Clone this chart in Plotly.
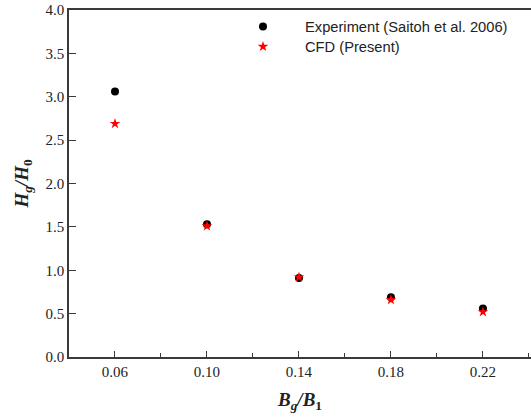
import plotly.graph_objects as go

bg_ratio = [0.06, 0.10, 0.14, 0.18, 0.22]
exp_vals = [3.06, 1.53, 0.91, 0.69, 0.56]
cfd_vals = [2.69, 1.51, 0.92, 0.66, 0.52]
series_names = ["Experiment (Saitoh et al. 2006)", "CFD (Present)"]
x_ticks = [0.06, 0.10, 0.14, 0.18, 0.22]
x_tick_labels = ["0.06", "0.10", "0.14", "0.18", "0.22"]
y_ticks = [0.0, 0.5, 1.0, 1.5, 2.0, 2.5, 3.0, 3.5, 4.0]
y_tick_labels = ["0.0", "0.5", "1.0", "1.5", "2.0", "2.5", "3.0", "3.5", "4.0"]

fig = go.Figure()
fig.add_trace(go.Scatter(x=bg_ratio, y=exp_vals, mode="markers",
                         name="", legend="legend", hovertext=series_names[0],
                         marker=dict(symbol="circle", size=8, color="black")))
fig.add_trace(go.Scatter(x=bg_ratio, y=cfd_vals, mode="markers",
                         name="", legend="legend2", hovertext=series_names[1],
                         marker=dict(symbol="star", size=8, color="red")))

axis_color = "#3a3a3a"
leg_x = 0.3766
text_x = 0.5065
row_y = [0.952, 0.894]
leg_common = dict(xanchor="left", yanchor="middle", bgcolor="rgba(0,0,0,0)",
                  itemwidth=30, borderwidth=0,
                  font=dict(family="Liberation Sans", size=15, color="#222"))
fig.update_layout(
    width=531, height=419,
    margin=dict(l=69, r=0, t=10, b=62, autoexpand=False),
    plot_bgcolor="white", paper_bgcolor="white",
    font=dict(family="Liberation Serif", size=15, color="#222"),
    legend=dict(x=leg_x, y=row_y[0], **leg_common),
    legend2=dict(x=leg_x, y=row_y[1], **leg_common),
    showlegend=True,
)
for name, ry in zip(series_names, row_y):
    fig.add_annotation(text=name, xref="paper", yref="paper", x=text_x, y=ry,
                       xanchor="left", yanchor="middle", showarrow=False,
                       font=dict(family="Liberation Sans", size=14.7, color="#222"))

fig.update_xaxes(range=[0.04, 0.2409], tickvals=x_ticks, ticktext=x_tick_labels,
                 ticks="inside", ticklen=6, tickwidth=1.2, tickcolor=axis_color,
                 showline=True, linecolor=axis_color, linewidth=1.5, mirror=True,
                 showgrid=False, zeroline=False,
                 minor=dict(dtick=0.02, tick0=0.04, ticks="inside", ticklen=4,
                            tickwidth=1.2, tickcolor=axis_color, showgrid=False),
                 tickfont=dict(family="Liberation Serif", size=15),
                 title=dict(text="<b><i>B</i><sub><i>g</i></sub><i>/B</i><sub>1</sub></b>",
                            font=dict(family="Liberation Serif", size=19), standoff=14))
fig.update_yaxes(range=[0, 4.0], tickvals=y_ticks, ticktext=y_tick_labels,
                 ticks="inside", ticklen=7, tickwidth=1.2, tickcolor=axis_color,
                 showline=True, linecolor=axis_color, linewidth=1.5, mirror=False,
                 showgrid=False, zeroline=False,
                 tickfont=dict(family="Liberation Serif", size=15),
                 title=dict(text="<b><i>H</i><sub><i>g</i></sub><i>/H</i><sub>0</sub></b>",
                            font=dict(family="Liberation Serif", size=19), standoff=12))

fig.write_html("out.html", config={"displayModeBar": False},
               post_script="document.body.style.margin='0';document.body.style.overflow='hidden';")
